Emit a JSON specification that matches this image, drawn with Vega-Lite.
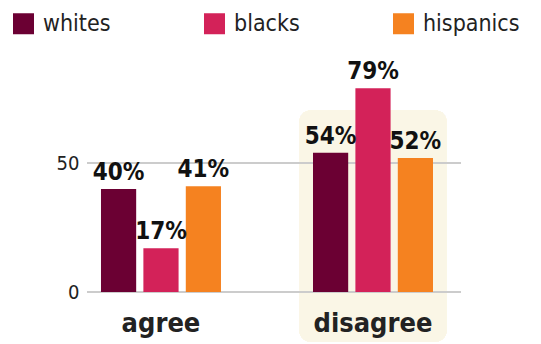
{
  "$schema": "https://vega.github.io/schema/vega-lite/v6.json",
  "autosize": "none",
  "padding": {"left": 87, "top": 60, "right": 80, "bottom": 52},
  "width": 374,
  "height": 232,
  "background": "white",
  "config": {
    "view": {"stroke": null},
    "font": "DejaVu Sans Condensed, Liberation Sans Narrow, sans-serif",
    "axisX": {
      "title": null, "ticks": false, "domain": false, "grid": false, "labelAngle": 0,
      "labelFontSize": 27, "labelFontWeight": "bold", "labelColor": "#222",
      "labelPadding": 18, "labelAlign": "center", "labelBaseline": "top",
      "labelOverlap": false, "labelBound": false, "labelFlush": false
    },
    "axisY": {
      "title": null, "ticks": false, "domain": false, "grid": false,
      "labelFontSize": 20, "labelColor": "#222", "labelPadding": 8
    }
  },
  "data": {
    "values": [
      {"answer": "agree", "group": "whites", "pct": 40},
      {"answer": "agree", "group": "blacks", "pct": 17},
      {"answer": "agree", "group": "hispanics", "pct": 41},
      {"answer": "disagree", "group": "whites", "pct": 54},
      {"answer": "disagree", "group": "blacks", "pct": 79},
      {"answer": "disagree", "group": "hispanics", "pct": 52}
    ]
  },
  "layer": [
    {
      "mark": {"type": "bar", "color": "#FAF6E6", "cornerRadius": 12, "width": {"band": 1.23}, "clip": false},
      "encoding": {
        "x": {"datum": "disagree", "type": "nominal", "axis": {"zindex": 2}},
        "y": {"datum": 70.5, "type": "quantitative", "axis": {"values": [0, 50]}},
        "y2": {"datum": -19.4}
      }
    },
    {
      "mark": {"type": "rule", "color": "#CCCCCC", "strokeWidth": 2},
      "encoding": {"y": {"datum": 0, "type": "quantitative", "axis": {"values": [0, 50]}}}
    },
    {
      "mark": {"type": "rule", "color": "#CCCCCC", "strokeWidth": 2},
      "encoding": {"y": {"datum": 50, "type": "quantitative", "axis": {"values": [0, 50]}}}
    },
    {
      "mark": {"type": "bar"},
      "encoding": {
        "x": {
          "field": "answer",
          "type": "nominal",
          "sort": ["agree", "disagree"],
          "scale": {"domain": ["agree", "disagree"], "paddingInner": 0.434, "paddingOuter": 0.099, "align": 0.333},
          "axis": {"zindex": 2}
        },
        "y": {
          "field": "pct",
          "type": "quantitative",
          "scale": {"domain": [0, 90]},
          "axis": {"values": [0, 50]}
        },
        "xOffset": {"field": "group", "type": "nominal", "sort": ["whites", "blacks", "hispanics"], "scale": {"paddingInner": 0.17, "paddingOuter": 0}},
        "color": {
          "field": "group", "type": "nominal",
          "sort": ["whites", "blacks", "hispanics"],
          "scale": {"domain": ["whites", "blacks", "hispanics"], "range": ["#6B0033", "#D32259", "#F58220"]},
          "legend": {
            "title": null, "orient": "none", "direction": "horizontal",
            "legendX": -75, "legendY": -48,
            "symbolType": "square", "symbolSize": 441, "symbolStrokeWidth": 0,
            "symbolOpacity": 1,
            "labelFontSize": 23, "labelColor": "#222", "labelOffset": 8,
            "columnPadding": 92, "gridAlign": "each"
          }
        }
      }
    },
    {
      "mark": {"type": "text", "baseline": "bottom", "dy": -4, "fontSize": 24, "fontWeight": "bold", "color": "#111", "text": {"expr": "datum.pct + '%'"}},
      "encoding": {
        "x": {"field": "answer", "type": "nominal", "axis": {"zindex": 2}},
        "y": {"field": "pct", "type": "quantitative", "axis": {"values": [0, 50]}},
        "xOffset": {"field": "group", "type": "nominal", "sort": ["whites", "blacks", "hispanics"]}
      }
    }
  ]
}
